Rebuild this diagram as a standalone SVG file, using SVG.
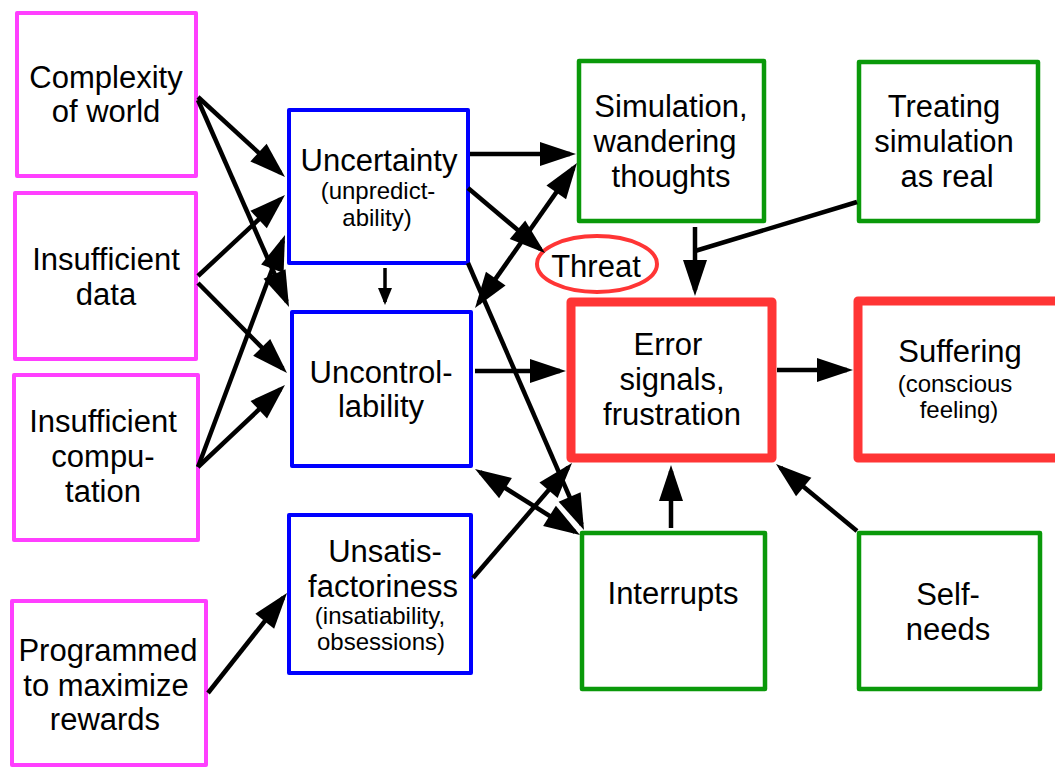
<svg xmlns="http://www.w3.org/2000/svg" width="1055" height="769" viewBox="0 0 1055 769">
<style>
.box{fill:#fff;stroke-linejoin:round}
.pink{stroke:#ff3fff;stroke-width:4}
.blue{stroke:#0000ff;stroke-width:4}
.green{stroke:#0a990a;stroke-width:4.5}
.red{stroke:#ff3535;stroke-width:9}
text{font-family:"Liberation Sans",Arial,sans-serif;font-size:31px;fill:#000;text-anchor:middle}
text.s{font-size:24px}
.c line{stroke:#000;stroke-width:4.5;fill:none}
.c line.a{marker-end:url(#ah)}
.c line.d{marker-start:url(#ah);marker-end:url(#ah)}
</style>
<defs>
<marker id="ah" markerUnits="userSpaceOnUse" markerWidth="36" markerHeight="24" refX="30" refY="12" orient="auto-start-reverse" overflow="visible">
<path d="M0,0 L36,12 L0,24 z" fill="#000"/>
</marker>
<marker id="ahs" markerUnits="userSpaceOnUse" markerWidth="17" markerHeight="14" refX="14" refY="7" orient="auto" overflow="visible">
<path d="M0,0 L17,7 L0,14 z" fill="#000"/>
</marker>
</defs>
<rect width="1055" height="769" fill="#fff"/>

<g id="complexity"><rect class="box pink" x="17" y="13" width="179" height="163"/><text x="106" y="88">Complexity</text><text x="106" y="122">of world</text></g>
<g id="insufficient-data"><rect class="box pink" x="15" y="193" width="181" height="166"/><text x="106" y="270">Insufficient</text><text x="106" y="305">data</text></g>
<g id="insufficient-computation"><rect class="box pink" x="14" y="375" width="184" height="165"/><text x="103" y="432">Insufficient</text><text x="103" y="467">compu-</text><text x="103" y="502">tation</text></g>
<g id="programmed"><rect class="box pink" x="12" y="601" width="194" height="164"/><text x="108" y="661">Programmed</text><text x="106" y="696">to maximize</text><text x="105" y="730">rewards</text></g>

<g id="uncertainty"><rect class="box blue" x="289" y="110" width="179" height="153"/><text x="379" y="171">Uncertainty</text><text class="s" x="378" y="199">(unpredict-</text><text class="s" x="377" y="226">ability)</text></g>
<g id="uncontrollability"><rect class="box blue" x="292" y="312" width="179" height="154"/><text x="381" y="383">Uncontrol-</text><text x="381" y="417">lability</text></g>
<g id="unsatisfactoriness"><rect class="box blue" x="289" y="515" width="182" height="158"/><text x="385" y="562">Unsatis-</text><text x="383" y="597">factoriness</text><text class="s" x="380" y="624">(insatiability,</text><text class="s" x="381" y="650">obsessions)</text></g>

<g id="simulation"><rect class="box green" x="579" y="61" width="185" height="160"/><text x="671" y="117">Simulation,</text><text x="665" y="152">wandering</text><text x="671" y="187">thoughts</text></g>
<g id="treating"><rect class="box green" x="859" y="62" width="179" height="159"/><text x="944" y="117">Treating</text><text x="944" y="152">simulation</text><text x="947" y="187">as real</text></g>
<g id="interrupts"><rect class="box green" x="582" y="533" width="183" height="156"/><text x="673" y="604">Interrupts</text></g>
<g id="self-needs"><rect class="box green" x="859" y="533" width="181" height="156"/><text x="948" y="605">Self-</text><text x="948" y="640">needs</text></g>

<g id="error"><rect class="box red" x="571" y="302" width="201" height="156"/><text x="668" y="355">Error</text><text x="672" y="390">signals,</text><text x="672" y="425">frustration</text></g>
<g id="suffering"><rect class="box red" x="858" y="301" width="215" height="157"/><text x="960" y="362">Suffering</text><text class="s" x="955" y="392">(conscious</text><text class="s" x="959" y="418">feeling)</text></g>

<g id="threat"><ellipse cx="597" cy="264" rx="60" ry="28" fill="#fff" stroke="#ff3535" stroke-width="4"/><text x="596" y="277">Threat</text></g>

<g id="connectors" class="c">
<line class="a" x1="198" y1="97" x2="280.6" y2="172.9"/>
<line class="a" x1="198" y1="100" x2="286.6" y2="301.5"/>
<line class="a" x1="198" y1="276" x2="280.6" y2="199.1"/>
<line class="a" x1="198" y1="283" x2="282.8" y2="368.7"/>
<line class="a" x1="198" y1="467" x2="282.9" y2="240.6"/>
<line class="a" x1="198" y1="467" x2="280.6" y2="389.1"/>
<line class="a" x1="208" y1="693" x2="283.3" y2="597.7"/>
<line x1="385" y1="268" x2="385" y2="302" style="stroke-width:3.5;marker-end:url(#ahs)"/>
<line class="a" x1="470" y1="154" x2="570" y2="154"/>
<line class="a" x1="468" y1="188" x2="540.4" y2="249.1"/>
<line class="d" x1="478.5" y1="303.1" x2="573.5" y2="167.9"/>
<line class="a" x1="468" y1="263" x2="581.6" y2="524.5"/>
<line class="a" x1="475" y1="371" x2="560" y2="371"/>
<line class="d" x1="480.1" y1="472.2" x2="574.9" y2="531.8"/>
<line class="a" x1="473" y1="578" x2="568.1" y2="467.5"/>
<line class="a" x1="671" y1="528" x2="671" y2="471"/>
<line class="a" x1="857" y1="531" x2="780.6" y2="467.8"/>
<line class="a" x1="777" y1="370" x2="847" y2="370"/>
<line class="a" x1="695" y1="227" x2="695" y2="290"/>
<line x1="857" y1="202" x2="695" y2="251"/>
</g>
</svg>
